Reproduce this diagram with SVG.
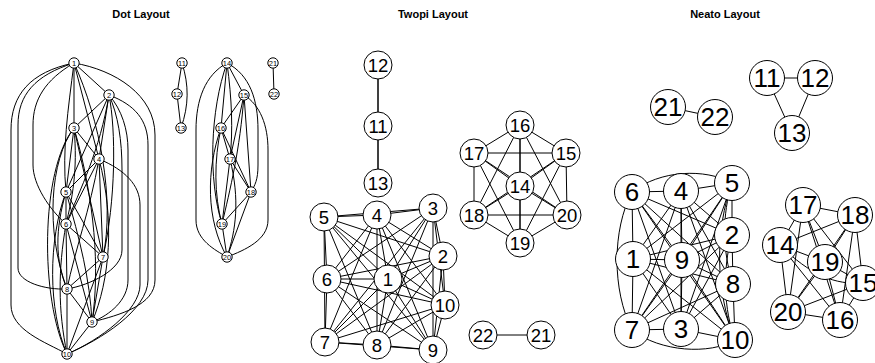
<svg xmlns="http://www.w3.org/2000/svg" width="875" height="363" viewBox="0 0 875 363">
<style>
  .e { fill: none; stroke: #000; stroke-width: 1; }
  .n circle { fill: #fff; stroke: #000; stroke-width: 1; }
  .n text { font-family: "Liberation Sans", Arial, sans-serif; text-anchor: middle; fill: #000; }
  .dot text { font-size: 7.5px; }
  .twopi text { font-size: 18.5px; }
  .neato text { font-size: 26px; }
  .title { font-family: "Liberation Sans", Arial, sans-serif; font-weight: bold; font-size: 11px; text-anchor: middle; fill: #000; }
</style>
<rect width="875" height="363" fill="#fff"/>

<text class="title" x="141" y="17.5">Dot Layout</text>
<text class="title" x="433" y="17.5">Twopi Layout</text>
<text class="title" x="725" y="17.5">Neato Layout</text>

<g id="connectors">
  <!-- dot: ranked splines -->
  <g id="dot-edges" class="e">
    <path d="M74,63 L109,95"/>
    <path d="M74,63 L74,128"/>
    <path d="M74,63 L99,159"/>
    <path d="M74,63 C68,110 62,150 66,192"/>
    <path d="M74,63 C45,80 33,100 33,125 L33,165 C33,185 50,210 66,224"/>
    <path d="M74,63 C100,120 115,200 103,257"/>
    <path d="M74,63 C35,75 18,95 18,125 L18,268 C18,282 45,290 67,289"/>
    <path d="M74,63 C115,70 155,95 155,135 L155,280 C155,305 120,315 92,322"/>
    <path d="M74,63 C30,72 11,95 11,130 L11,305 C11,330 45,342 67,354"/>
    <path d="M109,95 L74,128"/>
    <path d="M109,95 L99,159"/>
    <path d="M109,95 L66,192"/>
    <path d="M109,95 C100,150 80,190 66,224"/>
    <path d="M109,95 C116,130 116,200 103,257"/>
    <path d="M109,95 C118,115 122,140 122,170 L122,250 C122,270 90,285 67,289"/>
    <path d="M109,95 C122,110 128,130 128,150 L128,280 C128,300 110,315 92,322"/>
    <path d="M109,95 C135,105 148,120 148,145 L148,280 C148,310 100,340 67,354"/>
    <path d="M74,128 L99,159"/>
    <path d="M74,128 L66,192"/>
    <path d="M74,128 C78,170 72,200 66,224"/>
    <path d="M74,128 L103,257"/>
    <path d="M74,128 C50,160 45,230 67,289"/>
    <path d="M74,128 C95,200 100,270 92,322"/>
    <path d="M74,128 C40,170 40,300 67,354"/>
    <path d="M99,159 L66,192"/>
    <path d="M99,159 L66,224"/>
    <path d="M99,159 L103,257"/>
    <path d="M99,159 C90,210 75,250 67,289"/>
    <path d="M99,159 C115,220 110,280 92,322"/>
    <path d="M99,159 C125,170 140,185 140,205 L140,285 C140,310 100,340 67,354"/>
    <path d="M66,192 L66,224"/>
    <path d="M66,192 L103,257"/>
    <path d="M66,192 C55,230 55,260 67,289"/>
    <path d="M66,192 C80,240 90,280 92,322"/>
    <path d="M66,192 C48,240 48,310 67,354"/>
    <path d="M66,224 L103,257"/>
    <path d="M66,224 L67,289"/>
    <path d="M66,224 L92,322"/>
    <path d="M66,224 C58,270 58,310 67,354"/>
    <path d="M103,257 L67,289"/>
    <path d="M103,257 L92,322"/>
    <path d="M103,257 L67,354"/>
    <path d="M67,289 L92,322"/>
    <path d="M67,289 L67,354"/>
    <path d="M92,322 L67,354"/>
    <!-- 11..13 -->
    <path d="M182,63 L177,94"/>
    <path d="M177,94 L181,128"/>
    <path d="M182,63 C189,85 189,105 181,128"/>
    <!-- 14..20 -->
    <path d="M227,63 L244,95"/>
    <path d="M227,63 L221,128"/>
    <path d="M227,63 C232,100 233,130 230,159"/>
    <path d="M227,63 C250,75 258,100 258,130 L258,165 C258,180 255,185 251,192"/>
    <path d="M227,63 C210,110 208,180 222,224"/>
    <path d="M227,63 C205,75 196,100 196,130 L196,220 C196,240 215,250 227,257"/>
    <path d="M244,95 L221,128"/>
    <path d="M244,95 L230,159"/>
    <path d="M244,95 L251,192"/>
    <path d="M244,95 C240,150 230,190 222,224"/>
    <path d="M244,95 C260,105 268,125 268,150 L268,220 C268,240 245,250 227,257"/>
    <path d="M221,128 L230,159"/>
    <path d="M221,128 L251,192"/>
    <path d="M221,128 C214,160 214,195 222,224"/>
    <path d="M221,128 C206,170 206,220 227,257"/>
    <path d="M230,159 L251,192"/>
    <path d="M230,159 L222,224"/>
    <path d="M230,159 C240,200 236,230 227,257"/>
    <path d="M251,192 L222,224"/>
    <path d="M251,192 L227,257"/>
    <path d="M222,224 L227,257"/>
    <!-- 21-22 -->
    <path d="M273,63 L274,94"/>
  </g>

  <!-- twopi: radial, straight edges -->
  <g id="twopi-edges" class="e">
    <path d="M388,279 L443,256"/><path d="M388,279 L433,208"/><path d="M388,279 L377,215"/>
    <path d="M388,279 L324,217"/><path d="M388,279 L327,279"/><path d="M388,279 L325,342"/>
    <path d="M388,279 L377,345"/><path d="M388,279 L433,350"/><path d="M388,279 L445,305"/>
    <path d="M443,256 L433,208"/><path d="M443,256 L377,215"/><path d="M443,256 L324,217"/>
    <path d="M443,256 L327,279"/><path d="M443,256 L325,342"/><path d="M443,256 L377,345"/>
    <path d="M443,256 L433,350"/><path d="M443,256 L445,305"/>
    <path d="M433,208 L377,215"/><path d="M433,208 L324,217"/><path d="M433,208 L327,279"/>
    <path d="M433,208 L325,342"/><path d="M433,208 L377,345"/><path d="M433,208 L433,350"/>
    <path d="M433,208 L445,305"/>
    <path d="M377,215 L324,217"/><path d="M377,215 L327,279"/><path d="M377,215 L325,342"/>
    <path d="M377,215 L377,345"/><path d="M377,215 L433,350"/><path d="M377,215 L445,305"/>
    <path d="M324,217 L327,279"/><path d="M324,217 L325,342"/><path d="M324,217 L377,345"/>
    <path d="M324,217 L433,350"/><path d="M324,217 L445,305"/>
    <path d="M327,279 L325,342"/><path d="M327,279 L377,345"/><path d="M327,279 L433,350"/>
    <path d="M327,279 L445,305"/>
    <path d="M325,342 L377,345"/><path d="M325,342 L433,350"/><path d="M325,342 L445,305"/>
    <path d="M377,345 L433,350"/><path d="M377,345 L445,305"/>
    <path d="M433,350 L445,305"/>
    <!-- 11..13 -->
    <path d="M378,65 L378,126"/><path d="M378,126 L378,183"/><path d="M378,65 L378,183"/>
    <!-- 14..20 -->
    <path d="M520,186 L566,153"/><path d="M520,186 L520,125"/><path d="M520,186 L474,153"/>
    <path d="M520,186 L474,215"/><path d="M520,186 L520,243"/><path d="M520,186 L567,215"/>
    <path d="M566,153 L520,125"/><path d="M566,153 L474,153"/><path d="M566,153 L474,215"/>
    <path d="M566,153 L520,243"/><path d="M566,153 L567,215"/>
    <path d="M520,125 L474,153"/><path d="M520,125 L474,215"/><path d="M520,125 L520,243"/>
    <path d="M520,125 L567,215"/>
    <path d="M474,153 L474,215"/><path d="M474,153 L520,243"/><path d="M474,153 L567,215"/>
    <path d="M474,215 L520,243"/><path d="M474,215 L567,215"/>
    <path d="M520,243 L567,215"/>
    <!-- 21-22 -->
    <path d="M483,335 L541,335"/>
  </g>

  <!-- neato: spring layout -->
  <g id="neato-edges" class="e">
    <path d="M633,259 L732,235"/><path d="M633,259 L681,329"/><path d="M633,259 L681,191"/>
    <path d="M633,259 L732,183"/><path d="M633,259 L632,192"/><path d="M633,259 L632,330"/>
    <path d="M633,259 L733,284"/><path d="M633,259 L682,260"/><path d="M633,259 L735,340"/>
    <path d="M732,235 L681,329"/><path d="M732,235 L681,191"/><path d="M732,235 L732,183"/>
    <path d="M732,235 L632,192"/><path d="M732,235 L632,330"/><path d="M732,235 L733,284"/>
    <path d="M732,235 L682,260"/><path d="M732,235 C722,270 724,310 735,340"/>
    <path d="M681,329 L681,191"/><path d="M681,329 L732,183"/><path d="M681,329 L632,192"/>
    <path d="M681,329 L632,330"/><path d="M681,329 L733,284"/><path d="M681,329 L682,260"/>
    <path d="M681,329 L735,340"/>
    <path d="M681,191 L732,183"/><path d="M681,191 L632,192"/><path d="M681,191 L632,330"/>
    <path d="M681,191 L733,284"/><path d="M681,191 L682,260"/><path d="M681,191 L735,340"/>
    <path d="M732,183 C705,168 660,170 632,192"/><path d="M732,183 L632,330"/>
    <path d="M732,183 C722,215 722,250 733,284"/><path d="M732,183 L682,260"/>
    <path d="M732,183 C715,230 715,290 735,340"/>
    <path d="M632,192 C612,230 612,290 632,330"/><path d="M632,192 L733,284"/>
    <path d="M632,192 L682,260"/><path d="M632,192 L735,340"/>
    <path d="M632,330 L733,284"/><path d="M632,330 L682,260"/>
    <path d="M632,330 C660,352 710,355 735,340"/>
    <path d="M733,284 L682,260"/><path d="M733,284 L735,340"/>
    <path d="M682,260 L735,340"/>
    <!-- 11..13 -->
    <path d="M767,78 L815,78"/><path d="M767,78 L792,133"/><path d="M815,78 L792,133"/>
    <!-- 14..20 -->
    <path d="M780,245 C810,275 835,285 863,283"/><path d="M780,245 L840,320"/>
    <path d="M780,245 L803,205"/><path d="M780,245 L855,215"/><path d="M780,245 L825,262"/>
    <path d="M780,245 L788,312"/>
    <path d="M863,283 L840,320"/><path d="M863,283 L803,205"/><path d="M863,283 L855,215"/>
    <path d="M863,283 L825,262"/><path d="M863,283 L788,312"/>
    <path d="M840,320 L803,205"/><path d="M840,320 L855,215"/><path d="M840,320 L825,262"/>
    <path d="M840,320 L788,312"/>
    <path d="M803,205 L855,215"/><path d="M803,205 L825,262"/><path d="M803,205 L788,312"/>
    <path d="M855,215 L825,262"/><path d="M855,215 L788,312"/>
    <path d="M825,262 L788,312"/>
    <!-- 21-22 -->
    <path d="M668,107 L715,117"/>
  </g>
</g>

<!-- dot nodes -->
<g class="n dot">
  <g id="dot-n1"><circle cx="74" cy="63" r="5.2"/><text x="74" y="65.7">1</text></g>
  <g id="dot-n2"><circle cx="109" cy="95" r="5.2"/><text x="109" y="97.7">2</text></g>
  <g id="dot-n3"><circle cx="74" cy="128" r="5.2"/><text x="74" y="130.7">3</text></g>
  <g id="dot-n4"><circle cx="99" cy="159" r="5.2"/><text x="99" y="161.7">4</text></g>
  <g id="dot-n5"><circle cx="66" cy="192" r="5.2"/><text x="66" y="194.7">5</text></g>
  <g id="dot-n6"><circle cx="66" cy="224" r="5.2"/><text x="66" y="226.7">6</text></g>
  <g id="dot-n7"><circle cx="103" cy="257" r="5.2"/><text x="103" y="259.7">7</text></g>
  <g id="dot-n8"><circle cx="67" cy="289" r="5.2"/><text x="67" y="291.7">8</text></g>
  <g id="dot-n9"><circle cx="92" cy="322" r="5.2"/><text x="92" y="324.7">9</text></g>
  <g id="dot-n10"><circle cx="67" cy="354" r="5.2"/><text x="67" y="356.7">10</text></g>
  <g id="dot-n11"><circle cx="182" cy="63" r="5.2"/><text x="182" y="65.7">11</text></g>
  <g id="dot-n12"><circle cx="177" cy="94" r="5.2"/><text x="177" y="96.7">12</text></g>
  <g id="dot-n13"><circle cx="181" cy="128" r="5.2"/><text x="181" y="130.7">13</text></g>
  <g id="dot-n14"><circle cx="227" cy="63" r="5.2"/><text x="227" y="65.7">14</text></g>
  <g id="dot-n15"><circle cx="244" cy="95" r="5.2"/><text x="244" y="97.7">15</text></g>
  <g id="dot-n16"><circle cx="221" cy="128" r="5.2"/><text x="221" y="130.7">16</text></g>
  <g id="dot-n17"><circle cx="230" cy="159" r="5.2"/><text x="230" y="161.7">17</text></g>
  <g id="dot-n18"><circle cx="251" cy="192" r="5.2"/><text x="251" y="194.7">18</text></g>
  <g id="dot-n19"><circle cx="222" cy="224" r="5.2"/><text x="222" y="226.7">19</text></g>
  <g id="dot-n20"><circle cx="227" cy="257" r="5.2"/><text x="227" y="259.7">20</text></g>
  <g id="dot-n21"><circle cx="273" cy="63" r="5.2"/><text x="273" y="65.7">21</text></g>
  <g id="dot-n22"><circle cx="274" cy="94" r="5.2"/><text x="274" y="96.7">22</text></g>
</g>

<!-- twopi nodes -->
<g class="n twopi">
  <g id="twopi-n1"><circle cx="388" cy="279" r="14"/><text x="388" y="285.6">1</text></g>
  <g id="twopi-n2"><circle cx="443" cy="256" r="14"/><text x="443" y="262.6">2</text></g>
  <g id="twopi-n3"><circle cx="433" cy="208" r="14"/><text x="433" y="214.6">3</text></g>
  <g id="twopi-n4"><circle cx="377" cy="215" r="14"/><text x="377" y="221.6">4</text></g>
  <g id="twopi-n5"><circle cx="324" cy="217" r="14"/><text x="324" y="223.6">5</text></g>
  <g id="twopi-n6"><circle cx="327" cy="279" r="14"/><text x="327" y="285.6">6</text></g>
  <g id="twopi-n7"><circle cx="325" cy="342" r="14"/><text x="325" y="348.6">7</text></g>
  <g id="twopi-n8"><circle cx="377" cy="345" r="14"/><text x="377" y="351.6">8</text></g>
  <g id="twopi-n9"><circle cx="433" cy="350" r="14"/><text x="433" y="356.6">9</text></g>
  <g id="twopi-n10"><circle cx="445" cy="305" r="14"/><text x="445" y="311.6">10</text></g>
  <g id="twopi-n11"><circle cx="378" cy="126" r="14"/><text x="378" y="132.6">11</text></g>
  <g id="twopi-n12"><circle cx="378" cy="65" r="14"/><text x="378" y="71.6">12</text></g>
  <g id="twopi-n13"><circle cx="378" cy="183" r="14"/><text x="378" y="189.6">13</text></g>
  <g id="twopi-n14"><circle cx="520" cy="186" r="14"/><text x="520" y="192.6">14</text></g>
  <g id="twopi-n15"><circle cx="566" cy="153" r="14"/><text x="566" y="159.6">15</text></g>
  <g id="twopi-n16"><circle cx="520" cy="125" r="14"/><text x="520" y="131.6">16</text></g>
  <g id="twopi-n17"><circle cx="474" cy="153" r="14"/><text x="474" y="159.6">17</text></g>
  <g id="twopi-n18"><circle cx="474" cy="215" r="14"/><text x="474" y="221.6">18</text></g>
  <g id="twopi-n19"><circle cx="520" cy="243" r="14"/><text x="520" y="249.6">19</text></g>
  <g id="twopi-n20"><circle cx="567" cy="215" r="14"/><text x="567" y="221.6">20</text></g>
  <g id="twopi-n21"><circle cx="541" cy="335" r="14"/><text x="541" y="341.6">21</text></g>
  <g id="twopi-n22"><circle cx="483" cy="335" r="14"/><text x="483" y="341.6">22</text></g>
</g>

<!-- neato nodes -->
<g class="n neato">
  <g id="neato-n1"><circle cx="633" cy="259" r="17.5"/><text x="633" y="268.3">1</text></g>
  <g id="neato-n2"><circle cx="732" cy="235" r="17.5"/><text x="732" y="244.3">2</text></g>
  <g id="neato-n3"><circle cx="681" cy="329" r="17.5"/><text x="681" y="338.3">3</text></g>
  <g id="neato-n4"><circle cx="681" cy="191" r="17.5"/><text x="681" y="200.3">4</text></g>
  <g id="neato-n5"><circle cx="732" cy="183" r="17.5"/><text x="732" y="192.3">5</text></g>
  <g id="neato-n6"><circle cx="632" cy="192" r="17.5"/><text x="632" y="201.3">6</text></g>
  <g id="neato-n7"><circle cx="632" cy="330" r="17.5"/><text x="632" y="339.3">7</text></g>
  <g id="neato-n8"><circle cx="733" cy="284" r="17.5"/><text x="733" y="293.3">8</text></g>
  <g id="neato-n9"><circle cx="682" cy="260" r="17.5"/><text x="682" y="269.3">9</text></g>
  <g id="neato-n10"><circle cx="735" cy="340" r="17.5"/><text x="735" y="349.3">10</text></g>
  <g id="neato-n11"><circle cx="767" cy="78" r="17.5"/><text x="767" y="87.3">11</text></g>
  <g id="neato-n12"><circle cx="815" cy="78" r="17.5"/><text x="815" y="87.3">12</text></g>
  <g id="neato-n13"><circle cx="792" cy="133" r="17.5"/><text x="792" y="142.3">13</text></g>
  <g id="neato-n14"><circle cx="780" cy="245" r="17.5"/><text x="780" y="254.3">14</text></g>
  <g id="neato-n15"><circle cx="863" cy="283" r="17.5"/><text x="863" y="292.3">15</text></g>
  <g id="neato-n16"><circle cx="840" cy="320" r="17.5"/><text x="840" y="329.3">16</text></g>
  <g id="neato-n17"><circle cx="803" cy="205" r="17.5"/><text x="803" y="214.3">17</text></g>
  <g id="neato-n18"><circle cx="855" cy="215" r="17.5"/><text x="855" y="224.3">18</text></g>
  <g id="neato-n19"><circle cx="825" cy="262" r="17.5"/><text x="825" y="271.3">19</text></g>
  <g id="neato-n20"><circle cx="788" cy="312" r="17.5"/><text x="788" y="321.3">20</text></g>
  <g id="neato-n21"><circle cx="668" cy="107" r="17.5"/><text x="668" y="116.3">21</text></g>
  <g id="neato-n22"><circle cx="715" cy="117" r="17.5"/><text x="715" y="126.3">22</text></g>
</g>
</svg>
